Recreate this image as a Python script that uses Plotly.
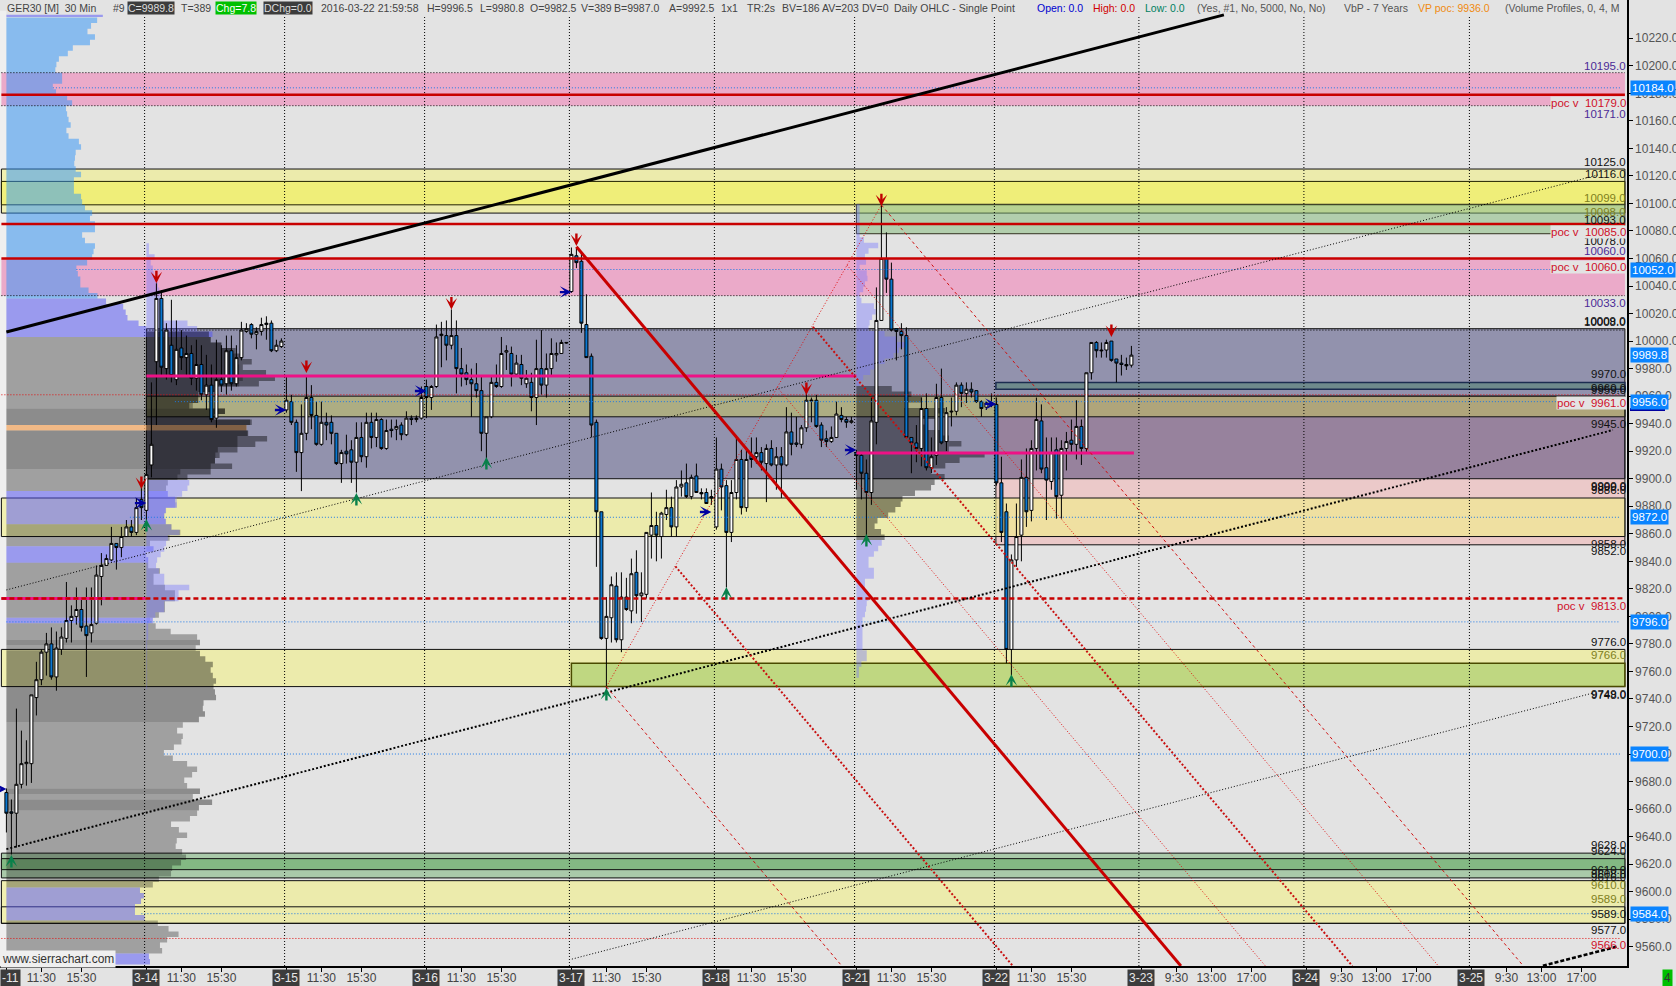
import numpy as np
import plotly.graph_objects as go

FONT = "Liberation Sans"
# ---------- 30-minute OHLC bars ----------
opens = [9672,9658,9657,9678,9693,9693,9741,9754,9774,9780,
9756,9776,9784,9797,9800,9805,9793,9788,9795,9829,
9837,9841,9853,9850,9858,9865,9861,9885,9877,9910,
9985,10031,9980,9997,9972,9995,9988,9991,9973,9983,
9961,9968,9944,9972,9969,9993,9969,9988,10007,10012,
10005,10007,10012,10013,9993,9996,9950,9956,9941,9919,
9933,9959,9946,9925,9941,9941,9933,9911,9920,9921,
9912,9930,9916,9941,9930,9943,9922,9936,9936,9939,
9932,9944,9943,9944,9967,9959,9967,10004,10004,9997,
10004,9980,9977,9972,9969,9964,9933,9945,9970,9967,
9992,9991,9976,9983,9969,9970,9959,9980,9968,9980,
9990,9991,9998.5,10036,10062,10058,10012,9989,9941,9876,
9784,9799,9822,9783,9814,9804,9832,9815,9816,9859,
9866,9858,9874,9879,9865,9894,9897,9887,9902,9890,
9890,9887,9865,9907,9895,9861,9890,9914,9879,9917,
9916,9919,9911,9922,9910,9916,9910,9934,9926,9925,
9937,9956.5,9957,9939,9929,9927,9930,9946,9943,9941,
9919,9917,9904,9890,9941,10015,10060,10045,10009,10007,
10004,9930,9926,9922,9951,9908,9917,9959,9927,9948.5,
9949,9968,9962,9965,9964,9956,9952,9954,9954,9897,
9876,9776,9841,9859,9901,9877,9922,9942,9908,9898,
9921,9888,9922,9928,9925,9938,9922,9977,9999,9993.5,
9993.5,10000,9987,9984,9983,9982.5]
highs = [9675,9667,9733,9717,9710,9743,9767,9776,9788,9792,
9789,9792,9825,9808,9821,9814,9821,9821,9837,9846,
9845,9865,9853,9865,9870,9870,9886,9894,9909,9970,
10042,10037,10013,10030,10015,10008,10004,9997,10001,9997,
9990,9983,10001,9997,10004,10004,9997,10014,10013,10013,
10010,10017,10018,10015,10001,10002,9974,9961,9943,9954,
9974,9968,9956,9956,9948,9946,9933,9921,9932,9928,
9941,9941,9948,9948,9948,9944,9943,9943,9943,9941,
9949,9946,9946,9967,9972,9968,10012,10014,10015,10023,
10015,9995,9983,9980,9984,9974,9945,9974,9983,10003,
9997,9996,9990,9990,9979,9977,10001,10008,9991,10002,
9999,10001,9999,10068,10068,10065,10034,9991,9943,9876,
9814,9829,9832,9832,9828,9842,9848,9832,9861,9890,
9876,9876,9892,9887,9899,9906,9911,9903,9911,9893,
9893,9892,9930,9911,9899,9899,9930,9921,9923,9930,
9930,9923,9925,9928,9923,9923,9952,9948,9945,9939,
9963,9959,9961,9941,9935,9938,9956,9952,9945,9945,
9921,9919,9914,9959,10039,10099,10079,10057,10009,10013,
10010,9930,9939,9959,9962,9930,9969,9980,9952,9959,
9970,9970,9970,9970,9964,9957,9956,9962,9959,9916,
9882,9845,9882,9914,9922,9928,9959,9954,9930,9930,
9930,9928,9934,9943,9957,9943,9977,9999,10000,9999,
10001,10000,9987,9990,9988,9996.5]
lows = [9643,9627,9632,9675,9677,9679,9728,9750,9757,9754,
9746,9772,9781,9781,9794,9789,9756,9781,9794,9808,
9837,9840,9834,9843,9858,9858,9859,9870,9870,9901,
9939,9975,9972,9970,9968,9979,9975,9968,9964,9957,
9950,9941,9937,9963,9961,9964,9967,9986,10006,10002,
9994,10004,10001,9992,9992,9995,9948,9939,9905,9891,
9928,9936,9924,9924,9928,9925,9910,9897,9911,9897,
9890,9912,9908,9922,9923,9921,9921,9930,9928,9928,
9931,9939,9941,9943,9944,9950,9966,9981,9986,9994,
9962,9967,9968,9945,9959,9920,9915,9944,9966,9966,
9979,9967,9974,9968,9966,9949,9939,9961,9959,9974,
9985,9991,9998,10035,10053,10006,9988,9930,9836,9783,
9746,9781,9781,9774,9804,9795,9802,9796,9813,9842,
9840,9842,9870,9858,9858,9887,9886,9885,9890,9885,
9882,9881,9863,9877,9821,9854,9885,9874,9876,9908,
9911,9906,9883,9909,9892,9886,9909,9917,9923,9922,
9934,9941,9937,9923,9923,9926,9930,9941,9937,9940,
9892,9885,9858,9881,9925,10015,10035,10007,9986,9994,
9930,9904,9912,9909,9906,9904,9910,9925,9920,9938,
9946,9952,9955,9959,9955,9945,9950,9952,9895,9854,
9766,9757,9836,9840,9865,9869,9906,9904,9870,9892,
9871,9871,9906,9919,9914,9910,9919,9972,9988,9988,
9988,9985,9970,9975,9979,9980.8]
closes = [9657,9657,9678,9693,9694,9743,9754,9774,9780,9756,
9777,9785,9797,9800,9805,9792,9786,9794,9830,9837,
9842,9853,9850,9858,9865,9861,9879,9879,9903,9925,
10031,9981,10008,9975,9994,9988,9991,9973,9983,9961,
9968,9943,9972,9968,9993,9969,9988,10008,10009,10005,
10007,10012,10013,9993,9997,10000,9957,9941,9919,9933,
9959,9946,9925,9941,9939,9933,9911,9919,9918,9912,
9930,9916,9941,9930,9943,9922,9935,9935,9938,9932,
9944,9943,9944,9959,9959,9967,10003,10005,9997,10004,
9980,9976,9972,9969,9964,9933,9945,9970,9967,9991,
9993,9976,9984,9973,9973,9959,9980,9968,9980,9991,
9991,9999,9999,10063,10057,10013,9988,9939,9876,9784,
9800,9823,9783,9814,9805,9831,9815,9817,9861,9866,
9859,9875,9879,9865,9894,9896,9887,9901,9890,9889,
9882,9886,9907,9894,9861,9890,9914,9879,9914,9914,
9919,9912,9922,9910,9916,9910,9934,9925,9925,9937,
9957,9957,9938,9928,9927,9930,9947,9943,9941,9942,
9917,9904,9890,9942,10015,10060,10045,10008,10007,10004,
9930,9926,9922,9951,9908,9916,9959,9926,9948,9949,
9968,9962,9965,9963,9956,9951,9955,9955,9897,9861,
9776,9841,9858,9901,9876,9922,9943,9907,9899,9919,
9887,9922,9927,9925,9938,9922,9977,9999,9993,9993,
9999,9986,9984,9983,9982,9989.8]

# ---------- volume profiles (width in units, 4 point bins) ----------
vol_7y = [272,255,245,266,252,204,190,165,158,155,174,174,148,157,188,202,185,188,192,198,
186,192,221,227,212,210,208,212,227,207,207,207,227,230,238,258,252,266,266,230,
238,266,262,258,244,214,218,225,225,248,273,297,345,352,357,388,410,
595,590,620,650,660,665,670,670,680,670,610,560,555,540,630,600,700,690,693,665,665,610,603,602,590,
505,497,470,465,470,490,495,465,460,465,480,505,475,420,430,410,415,415,448,430,430,462,490,490,462,462,445,428,436,478,552,560,548,560,575,
596,590,596,605,598,602,605,570,568,574,557,512,496,512,508,487,459,484,524,552,538,516,524,560,540,594,557,552,532,479,501,524,495,492,510,521,507,482,479,445,428,392,403,395,378,378,405,442,472,500,468,448,454,417,420]
vol_week = [417,417,433,422,428,430,436,442,446,450,456,456,458,458,525,552,
585,590,620,660,680,705,680,745,770,725,600,555,555,530,630,600,705,690,695,748,715,665,615,602,650,590,525,
530,525,510,495,490,462,460,462,480,503,470,465,460,450,440,437,445,460,460,530,500,500,460,460,435,420,415,415,415,412,412,412,412,412,412,412,412,412]
vol_321 = [950,950,950,950,950,950,962,1002,975,965,968,950,970,972,965,960,950,955,990,995,985,978,975,1020,1055,1085,1060,1045,1020,1000,980,960,950,
1040,1095,1125,1075,1190,1165,1120,1140,1175,1200,1235,1200,1300,1230,1190,1150,1188,1160,1150,1105,1070,1065,1050,1030,1000,992,1010,1020,
1012,1002,990,975,975,990,990,965,965,970,975,970,968,965,958,958,958,958,958,958,970,970,955,948,948]
TOP_7Y, TOP_WEEK, TOP_321 = 10235.0, 10071.0, 10099.4

# ---------- axis ticks ----------
price_ticks = list(range(9560, 10221, 20))
time_ticks = [7,15,35,43,63,71,91,99,120,128,149,157,177,185,205,213,234,241,249,267,274,282,300,307,315]
time_text = ["11:30","15:30"]*8 + ["9:30","13:00","17:00"]*3
date_ticks = [0,28,56,84,113,142,170,198,227,260,293]
date_text = ["-11","3-14","3-15","3-16","3-17","3-18","3-21","3-22","3-23","3-24","3-25"]
highlight_prices = [10184.0,10052.0,9989.8,9956.0,9872.0,9796.0,9700.0,9584.0]

# ---------- level labels ----------
PURPLE, RED, BLACK, OLIVE = "#4b2a96", "#d0102a", "#111111", "#80801c"
level_labels = [(10195,PURPLE,7),(10171,PURPLE,-8),(10125,BLACK,7),(10116,BLACK,7),(10099,OLIVE,7),(10098,OLIVE,-6),
(10093,BLACK,-7),(10078,BLACK,-7),(10060,PURPLE,8),(10033,PURPLE,-7),(10009,BLACK,8),(10008,BLACK,8),
(9970,BLACK,8),(9960,BLACK,8),(9959,BLACK,8),(9945,BLACK,-7),(9900,BLACK,-7),(9899,BLACK,-7),(9886,BLACK,8),
(9858,BLACK,-7),(9852,BLACK,-6),(9776,BLACK,7),(9766,OLIVE,8),(9749,BLACK,-7),(9748,BLACK,-7),
(9628,BLACK,8),(9624,BLACK,8),(9616,BLACK,-7),(9610,BLACK,8),(9608,BLACK,7),(9610,OLIVE,-7),(9589,OLIVE,8),
(9589,BLACK,-7),(9577,BLACK,-7),(9566,RED,-7)]
poc_labels = [10179,10085,10060,9961,9813]

# ---------- signal arrows (bar, price) ----------
down_x = [30,89,27,60,114,160,175,221]
down_y = [10042,10023,9892.5,9976.8,10069,9960.8,10098,10003]
up_x = [1,28,70,96,120,144,172,201]
up_y = [9626.6,9870.7,9889.6,9915.8,9747.9,9821.3,9859.8,9758]
right_x = [0,28,56,84,113,141,170,198]
right_y = [9674.6,9882.3,9949.9,9963.7,10035.6,9875.8,9920.9,9954.3]

GRID_BARS = [27.64,55.64,83.64,112.6,141.6,169.64,197.6,226.5,259.5,292.6]
XL, XR = -1.0, 323.7
BG = "#e3e3e3"

fig = go.Figure()
shapes = []
def zone(top, bot, x0=XL, x1=XR, fill="#ecebac", line=None, w=1):
    shapes.append(dict(type="rect", layer="below", xref="x", yref="y", x0=x0, x1=x1, y0=bot, y1=top,
                       fillcolor=fill, line=dict(color=line, width=w) if line else dict(width=0)))

YEL = "rgba(242,240,135,0.6)"
shapes.append(dict(type="rect", layer="below", xref="x", yref="y", x0=-1.28, x1=0, y0=9546, y1=10240,
                   fillcolor="#efefef", line=dict(width=0)))
zone(9960, 9852, 197.9, XR, "#ebc9c9", "#111111")
zone(10195, 10171, fill="#ebaac9")
zone(10060, 10033, fill="#ebaac9")
zone(10125, 10093, fill=YEL, line="#111111")
zone(10116, 10099, fill="rgba(242,240,80,0.55)", line="#222200")
zone(9886, 9858, fill=YEL, line="#111111")
zone(9776, 9749, fill=YEL, line="#111111")
zone(9608, 9577, fill=YEL, line="#111111")
zone(9589, 9577, fill="rgba(0,0,0,0)", line="#111111")
zone(9628, 9610, fill="#a9c9a9", line="#111111")
zone(9624, 9616, fill="#83b983", line="#111111")
zone(10009, 9900, 28, XR, "rgba(25,25,92,0.4)", "#111111")
zone(9960, 9945, 28, XR, "rgba(200,200,90,0.5)", "#111111")
zone(9970, 9965, 197.9, XR, "#6f8a8c", "#1c2c50", 1.5)
zone(10099.4, 10078, 170, XR, "rgba(130,185,120,0.5)", "#333320")
zone(9766, 9749, 113, XR, "rgba(145,195,85,0.5)", "#4a4a00", 1.5)
for g in GRID_BARS:
    shapes.append(dict(type="line", layer="below", xref="x", yref="y", x0=g, x1=g, y0=9546, y1=10236,
                       line=dict(color="#000000", width=1, dash="1px,2px")))

# ---------- profiles ----------
GRAY, DGRAY = "rgba(0,0,0,0.295)", "rgba(0,0,0,0.383)"
LBLUE, PERI = "rgba(45,147,249,0.5)", "rgba(81,81,249,0.5)"
LAV = "rgba(115,115,255,0.4)"
ORANGE = "rgba(245,171,103,0.75)"
def c7(k):
    if k <= 50: return LBLUE
    if k <= 57: return PERI
    if k == 74: return ORANGE
    if k in (86,87,88,89,90,91,96,97,98,109,158,159,160,161,162,163,170,171): return PERI
    if k in (71,72,73,75,76,77,78,79,80,81,113,115,116,117,118,119,120,121,122,123,124,125,126,127,140,142,143): return DGRAY
    return GRAY
def prof(vals, top, base, bar0, colors):
    right = bar0 + (np.array(vals, float) - base) / 14.0
    k = 0
    n = len(vals)
    while k < n:
        e = k
        while e + 1 < n and colors[e + 1] == colors[k]:
            e += 1
        path = f"M{bar0},{top - 4*k}"
        for j in range(k, e + 1):
            path += f"L{right[j]:.3f},{top - 4*j}L{right[j]:.3f},{top - 4*(j + 1)}"
        path += f"L{bar0},{top - 4*(e + 1)}Z"
        shapes.append(dict(type="path", layer="below", xref="x", yref="y", path=path,
                           fillcolor=colors[k], line=dict(width=0)))
        k = e + 1
prof(vol_7y, TOP_7Y, 18, 0, [c7(k) for k in range(len(vol_7y))])
prof(vol_week, TOP_WEEK, 410, 28, [("rgba(0,0,0,0.42)" if 16 <= j <= 42 else LAV) for j in range(len(vol_week))])
prof(vol_321, TOP_321, 941, 170, [("rgba(0,0,0,0.42)" if 33 <= j <= 60 else LAV) for j in range(len(vol_321))])
zone(10237, 10235.4, 0, 270/14.0, PERI)

# ---------- candles ----------
bars = list(range(len(closes)))
fig.add_trace(go.Candlestick(x=bars, open=opens, high=highs, low=lows, close=closes,
    increasing=dict(line=dict(color="#000000", width=1), fillcolor="#ffffff"),
    decreasing=dict(line=dict(color="#000000", width=1), fillcolor="#0a78d2"),
    whiskerwidth=0, hoverinfo="skip", showlegend=False))

# ---------- levels and trend lines ----------
def seg(x0, x1, y0, y1, color, width=1, dash="solid"):
    fig.add_trace(go.Scatter(x=[x0, x1], y=[y0, y1], mode="lines", hoverinfo="skip", showlegend=False,
                             line=dict(color=color, width=width, dash=dash)))
DOT1, DOT2 = "1px,2px", "2px,2px"
for p in (10195, 10171, 10033):
    seg(XL, XR, p, p, "#000000", 1, DOT1)
seg(28, XR, 10008, 10008, "#000000", 1, DOT1)
for p, x0 in ((10184,9.3),(10052,14),(9956,33.7),(9872,24.7),(9796,0),(9700,31.5),(9584,27)):
    seg(x0, 322.8, p, p, "#1c78e6", 1, DOT1)
for p in (9961, 9566):
    seg(XL, 322.8, p, p, "#e01010", 1, DOT1)
MAG = "#ee1186"
seg(28, 170, 9974.6, 9974.6, MAG, 3)
seg(170, 225.5, 9918.7, 9918.7, MAG, 3)
seg(XL, 27.8, 9813, 9813, MAG, 3)
for p in (10179, 10085, 10060):
    seg(XL, XR, p, p, "#c80000", 2.5)
seg(XL, XR, 9813, 9813, "#c80000", 2.5, "5px,3px")

# trend lines
seg(0, 243.5, 10006.6, 10237, "#000000", 3)
seg(0, 318.3, 9819.2, 10120.7, "#000000", 1, DOT1)
seg(0, 321.3, 9630.9, 9935.4, "#000000", 2, DOT2)
seg(113.1, 317.3, 9551, 9744.3, "#000000", 1, DOT1)
seg(307.3, 322.1, 9546.2, 9560, "#000000", 2.5, "4px,2px")
# pitchfork
RED_L = "#c80000"
seg(120, 175, 9748.9, 10098.9, "#e01010", 1, DOT1)
seg(114, 234.9, 10068.6, 9546, RED_L, 3)
seg(120, 167.1, 9748.9, 9546, "#d01010", 1, "3px,3px")
seg(133.8, 201.3, 9836.4, 9546, "#c81010", 2, DOT2)
seg(154.1, 251.8, 9966.6, 9546, "#e01010", 1, DOT1)
seg(161.3, 269.2, 10010.4, 9546, "#c81010", 2, DOT2)
seg(168.1, 286.4, 10055.3, 9546, "#e01010", 1, DOT1)
seg(175, 303.4, 10098.9, 9546, "#d01010", 1, "3px,3px")

# ---------- annotations ----------
ann = []
def arrow(x, y, ax, ay, color):
    ann.append(dict(x=x, y=y, xref="x", yref="y", ax=ax, ay=ay, axref="pixel", ayref="pixel", text="", showarrow=True,
                    arrowcolor=color, arrowwidth=2.4, arrowhead=3, arrowsize=0.8, standoff=0))
for x, y in zip(down_x, down_y): arrow(x, y, 0, -14, "#c00000")
for x, y in zip(up_x, up_y): arrow(x, y, 0, 14, "#08804a")
for x, y in zip(right_x, right_y): arrow(x, y, -13, 0, "#0000a0")

LFONT = 11.5
for p, c, s in level_labels:
    ann.append(dict(x=XR, y=p, xref="x", yref="y", xanchor="right", yanchor="middle", yshift=s, xshift=2, text=f"{p:.1f}",
                    showarrow=False, font=dict(family=FONT, size=LFONT, color=c), borderpad=0))
for p in poc_labels:
    ann.append(dict(x=XR, y=p, xref="x", yref="y", xanchor="right", yanchor="middle", yshift=-8, xshift=2,
                    text=f"poc v&nbsp;&nbsp;{p:.1f}", showarrow=False, bgcolor=BG,
                    font=dict(family=FONT, size=LFONT, color=RED), borderpad=0))
for p in highlight_prices:
    ann.append(dict(x=1630/1676, y=p, xref="paper", yref="y", xanchor="left", yanchor="middle", text=f"{p:.1f}",
                    showarrow=False, bgcolor="#0a84ff", font=dict(family=FONT, size=11.5, color="#ffffff"), borderpad=1))
shapes.append(dict(type="rect", xref="paper", yref="paper", x0=1630/1676, x1=1665/1676, y0=1-411/986, y1=1-408/986,
                   fillcolor="#0000a0", line=dict(width=0)))
for t, x, sh in zip(date_text, date_ticks, [4]+[0]*10):
    ann.append(dict(x=x, y=1-978/986, xref="x", yref="paper", xanchor="center", yanchor="middle", text=t, xshift=sh,
                    showarrow=False, bgcolor="#3c3c3c", font=dict(family=FONT, size=12, color="#e8e8e8"), borderpad=1))

def head(px, text, color="#444444", bg=None, pad=0):
    a = dict(x=px/1676, y=1-8/986, xref="paper", yref="paper", xanchor="left", yanchor="middle", text=text,
             showarrow=False, font=dict(family=FONT, size=10.5, color=color), borderpad=pad)
    if bg: a["bgcolor"] = bg
    ann.append(a)
head(6, "GER30 [M]&nbsp;&nbsp;30 Min")
head(112, "#9")
head(127, "C=9989.8", "#dddddd", "#3c3c3c")
head(180, "T=389")
head(215, "Chg=7.8", "#ffffff", "#00c000")
head(263, "DChg=0.0", "#dddddd", "#3c3c3c")
head(320, "2016-03-22 21:59:58")
head(426, "H=9996.5")
head(479, "L=9980.8")
head(529, "O=9982.5")
head(580, "V=389")
head(613, "B=9987.0")
head(668, "A=9992.5")
head(720, "1x1")
head(746, "TR:2s")
head(781, "BV=186")
head(821, "AV=203")
head(861, "DV=0")
head(893, "Daily OHLC - Single Point")
head(1036, "Open: 0.0", "#0000d0")
head(1092, "High: 0.0", "#d00000")
head(1144, "Low: 0.0", "#008060")
head(1196, "(Yes, #1, No, 5000, No, No)", "#555555")
head(1343, "VbP - 7 Years", "#555555")
head(1417, "VP poc: 9936.0", "#f08a10")
head(1504, "(Volume Profiles, 0, 4, M", "#555555")
ann.append(dict(x=0, y=1-958.5/986, xref="paper", yref="paper", xanchor="left", yanchor="middle", text="www.sierrachart.com",
                showarrow=False, bgcolor="#efefef", font=dict(family=FONT, size=12, color="#333333"), borderpad=1))
ann.append(dict(x=1667.5/1676, y=1-978/986, xref="paper", yref="paper", xanchor="center", yanchor="middle", text="4",
                showarrow=False, bgcolor="#00c000", font=dict(family=FONT, size=12, color="#333333"), borderpad=1))

fig.update_layout(
    width=1676, height=986, margin=dict(l=0, r=0, t=0, b=0, pad=0, autoexpand=False), autosize=False,
    paper_bgcolor=BG, plot_bgcolor=BG, boxgap=0.4, boxgroupgap=0,
    showlegend=False, shapes=shapes, annotations=ann,
    font=dict(family=FONT, size=12, color="#555555"),
    xaxis=dict(domain=[0, 1626.7/1676], range=[-1.28, 324.06], rangeslider=dict(visible=False), showgrid=False, zeroline=False, automargin=False,
               tickmode="array", tickvals=time_ticks + date_ticks, ticktext=time_text + [""]*11, ticks="outside", ticklen=4, tickcolor="#000000", tickwidth=1,
               showline=True, linecolor="#000000", linewidth=2, anchor="y", tickangle=0, ticklabelstandoff=-4,
               tickfont=dict(family=FONT, size=12, color="#444444")),
    yaxis=dict(domain=[20/986, 1], range=[9546, 10247.8], side="right", showgrid=False, zeroline=False, anchor="x", automargin=False,
               tickmode="array", tickvals=price_ticks, ticktext=[f"{v:.1f}" for v in price_ticks], ticks="outside", ticklen=4, tickcolor="#000000",
               showline=True, linecolor="#000000", linewidth=2,
               tickfont=dict(family=FONT, size=12, color="#555555")),
)
fig.write_html("out.html", config=dict(displayModeBar=False),
               post_script="var s=document.createElement('style');s.textContent='html,body{margin:0;padding:0;width:1676px;height:986px;overflow:hidden}';document.head.appendChild(s);")
